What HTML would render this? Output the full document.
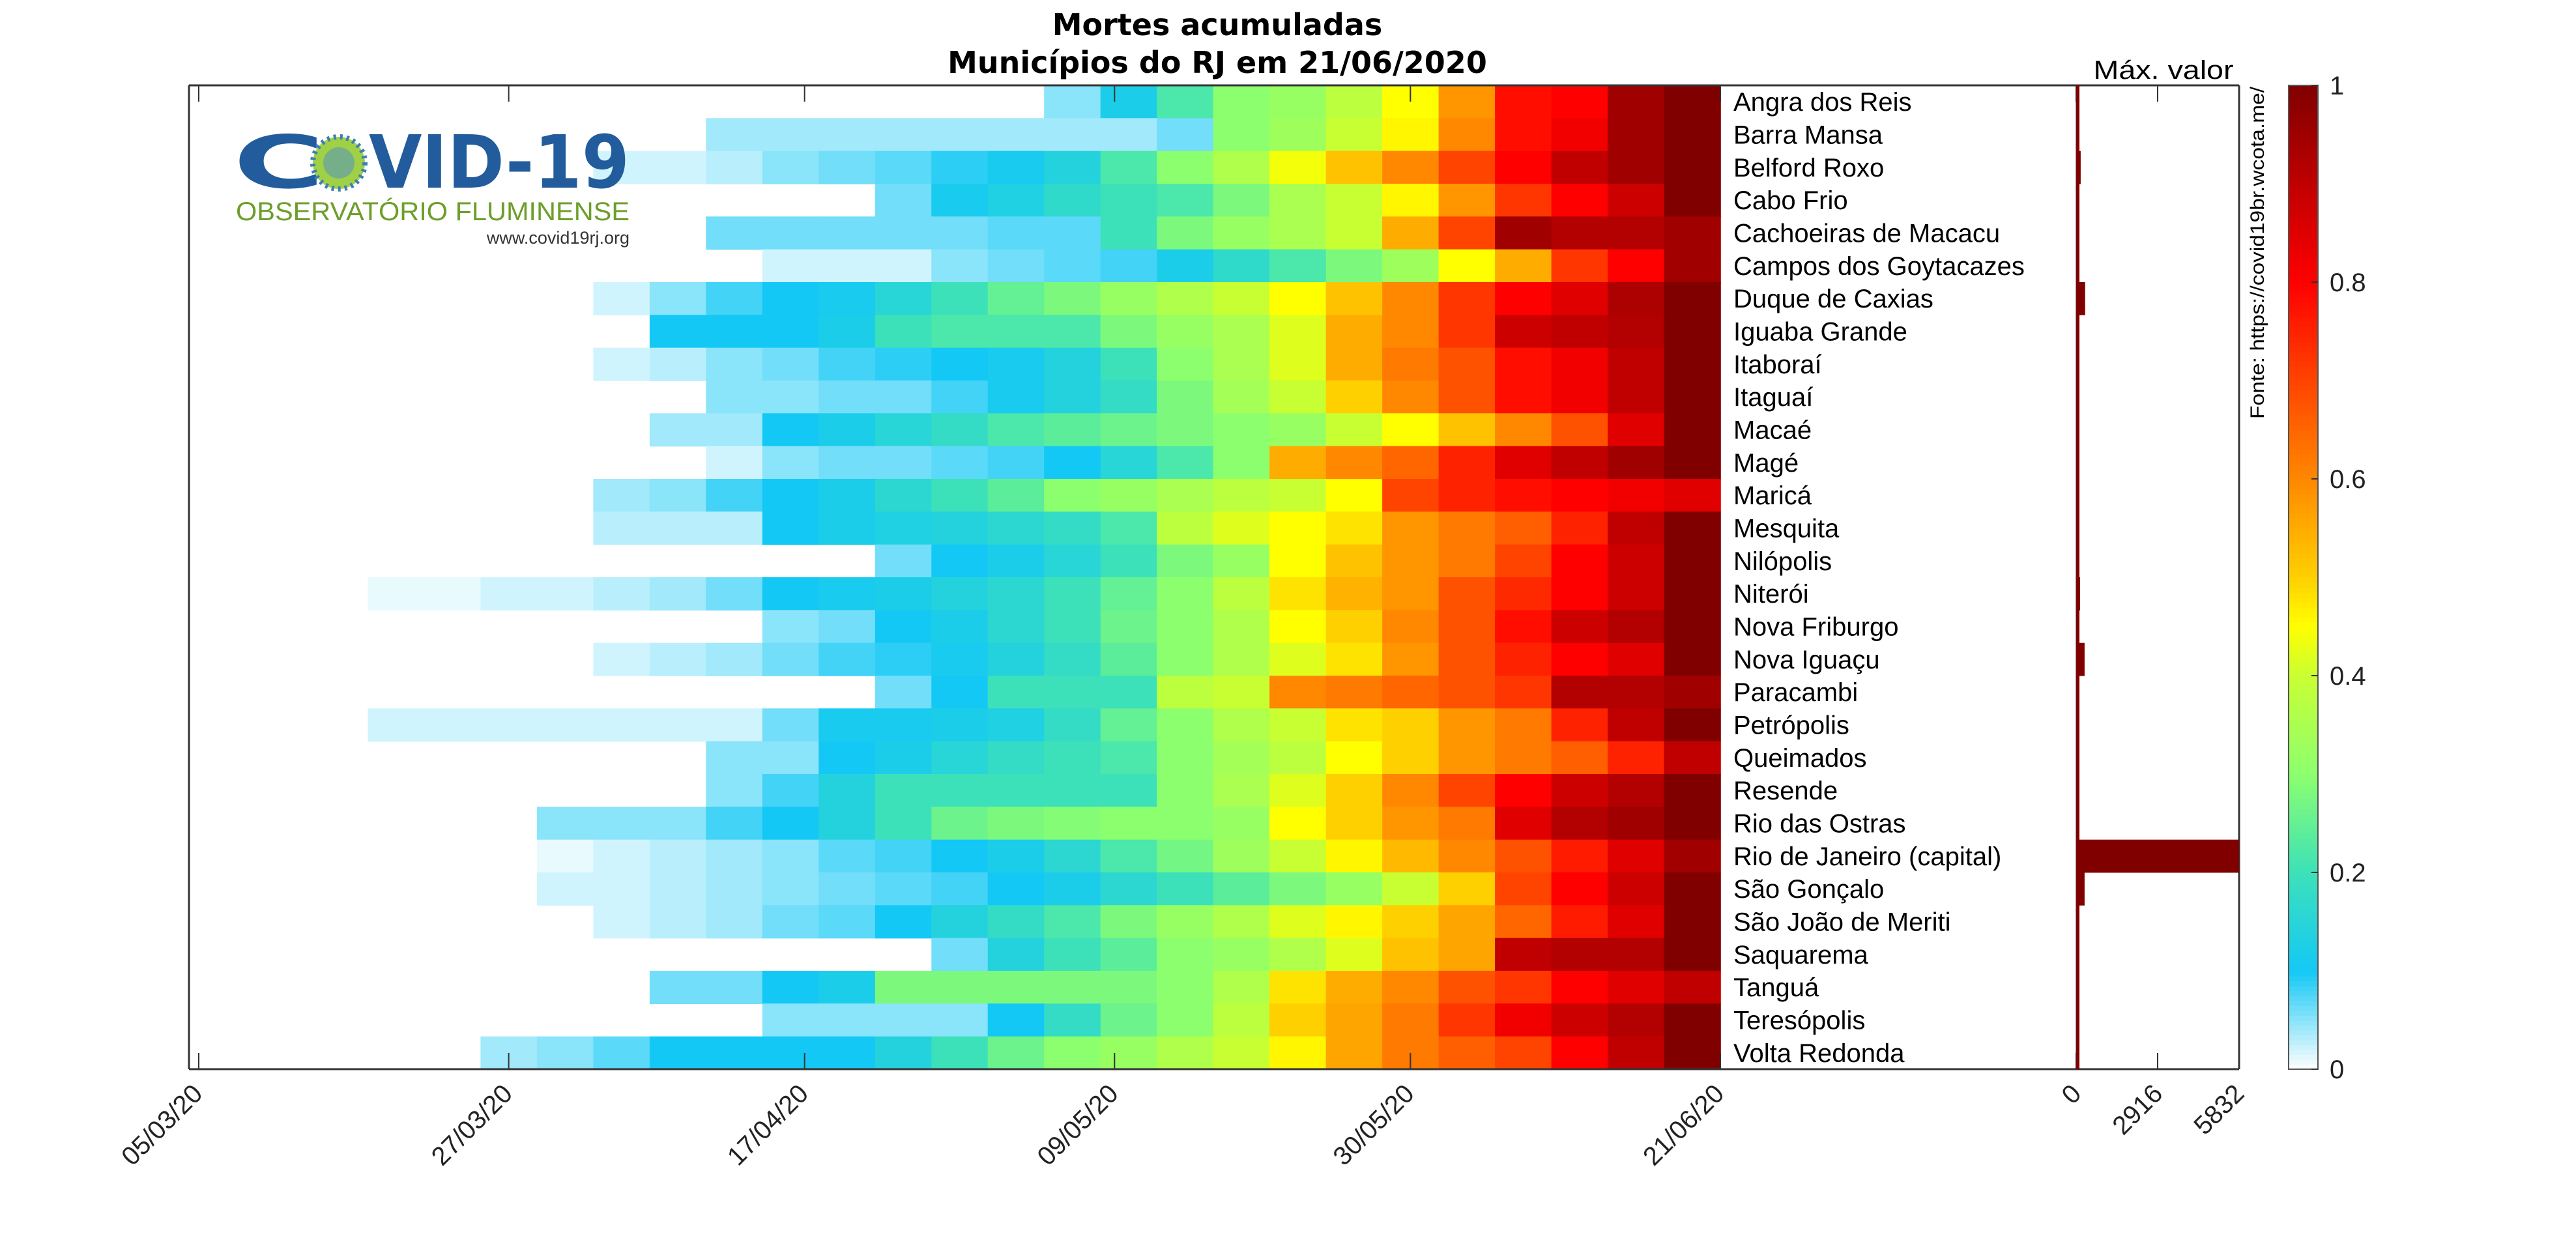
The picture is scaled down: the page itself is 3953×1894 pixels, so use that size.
<!DOCTYPE html>
<html><head><meta charset="utf-8"><style>
html,body{margin:0;padding:0;background:#fff;}
svg{display:block;font-family:"Liberation Sans",sans-serif;}
</style></head><body>
<svg id="chart" width="3953" height="1894" viewBox="0 0 3953 1894" xmlns="http://www.w3.org/2000/svg">
<text x="1868" y="54" font-size="46" font-weight="bold" text-anchor="middle" fill="#000" font-family="'DejaVu Sans',sans-serif">Mortes acumuladas</text>
<text x="1868" y="112" font-size="46" font-weight="bold" text-anchor="middle" fill="#000" font-family="'DejaVu Sans',sans-serif">Municípios do RJ em 21/06/2020</text>
<g id="heat"></g>
<g id="logo">
<text x="358" y="288" font-size="112" font-weight="bold" fill="#235c9c" font-family="'DejaVu Sans',sans-serif" textLength="140" lengthAdjust="spacingAndGlyphs">C</text>
<circle cx="520" cy="250" r="40" fill="#9fd046" stroke="#3d7fb4" stroke-width="8" stroke-dasharray="4 6"/>
<circle cx="520" cy="250" r="24" fill="#5a9ab8" opacity="0.6"/>
<text x="566" y="288" font-size="112" font-weight="bold" fill="#235c9c" font-family="'DejaVu Sans',sans-serif" textLength="400" lengthAdjust="spacingAndGlyphs">VID-19</text>
<text x="362" y="338" font-size="40" fill="#6d9e2a" textLength="604" lengthAdjust="spacingAndGlyphs">OBSERVATÓRIO FLUMINENSE</text>
<text x="966" y="374" font-size="27" fill="#333" text-anchor="end">www.covid19rj.org</text>
</g>
<g id="frame" fill="none" stroke="#333" stroke-width="3">
<line x1="290" y1="131" x2="3436" y2="131"/>
<line x1="290" y1="1641" x2="3436" y2="1641"/>
<line x1="290" y1="131" x2="290" y2="1641"/>
<line x1="3436" y1="131" x2="3436" y2="1641"/>
<line x1="3186" y1="131" x2="3186" y2="1641" stroke="#888" stroke-width="2"/>
</g>
<g id="ticks"></g>
<g id="labels"></g>
<g id="bars"></g>
<text x="3320" y="121" font-size="40" text-anchor="middle" fill="#000" textLength="215" lengthAdjust="spacingAndGlyphs">Máx. valor</text>
<text transform="translate(3474,133) rotate(-90)" font-size="30" text-anchor="end" fill="#000" textLength="510" lengthAdjust="spacingAndGlyphs">Fonte: https://covid19br.wcota.me/</text>
<g id="cbar"></g>
</svg>
<script>
const NS="http://www.w3.org/2000/svg";
const municipalities=["Angra dos Reis","Barra Mansa","Belford Roxo","Cabo Frio","Cachoeiras de Macacu","Campos dos Goytacazes","Duque de Caxias","Iguaba Grande","Itaboraí","Itaguaí","Macaé","Magé","Maricá","Mesquita","Nilópolis","Niterói","Nova Friburgo","Nova Iguaçu","Paracambi","Petrópolis","Queimados","Resende","Rio das Ostras","Rio de Janeiro (capital)","São Gonçalo","São João de Meriti","Saquarema","Tanguá","Teresópolis","Volta Redonda"];
const startCol=[15,9,7,12,9,10,7,8,7,9,8,9,7,7,12,3,10,7,12,3,9,9,6,6,6,7,13,8,10,5];
const rowValues=[
[0.05,0.12,0.22,0.3,0.32,0.38,0.45,0.58,0.78,0.8,0.95,1],
[0.04,0.04,0.04,0.04,0.04,0.04,0.04,0.04,0.06,0.3,0.33,0.4,0.46,0.6,0.78,0.82,0.95,1],
[0.02,0.02,0.03,0.05,0.06,0.07,0.09,0.11,0.14,0.22,0.3,0.36,0.44,0.52,0.6,0.7,0.8,0.9,0.95,1],
[0.06,0.11,0.13,0.17,0.2,0.22,0.28,0.35,0.4,0.46,0.58,0.72,0.8,0.88,1],
[0.06,0.06,0.06,0.06,0.06,0.07,0.07,0.2,0.28,0.32,0.35,0.4,0.55,0.7,0.95,0.92,0.92,0.95],
[0.02,0.02,0.02,0.05,0.06,0.07,0.08,0.12,0.17,0.22,0.28,0.33,0.45,0.55,0.72,0.8,0.95],
[0.02,0.05,0.08,0.1,0.11,0.15,0.2,0.25,0.28,0.32,0.36,0.4,0.45,0.52,0.6,0.72,0.8,0.85,0.93,1],
[0.1,0.1,0.1,0.12,0.2,0.22,0.22,0.22,0.28,0.32,0.35,0.42,0.55,0.6,0.72,0.88,0.9,0.92,1],
[0.02,0.03,0.05,0.06,0.08,0.09,0.1,0.11,0.14,0.2,0.3,0.35,0.42,0.55,0.62,0.68,0.78,0.82,0.9,1],
[0.05,0.05,0.06,0.06,0.08,0.11,0.14,0.18,0.28,0.34,0.4,0.5,0.6,0.68,0.78,0.82,0.9,1],
[0.04,0.04,0.1,0.12,0.15,0.18,0.22,0.24,0.26,0.28,0.3,0.32,0.4,0.45,0.52,0.6,0.68,0.85,1],
[0.02,0.05,0.06,0.06,0.07,0.08,0.1,0.15,0.22,0.3,0.55,0.6,0.65,0.75,0.85,0.9,0.95,1],
[0.04,0.05,0.08,0.1,0.12,0.16,0.2,0.24,0.3,0.32,0.35,0.38,0.4,0.45,0.7,0.75,0.78,0.8,0.82,0.85],
[0.03,0.03,0.03,0.1,0.12,0.13,0.14,0.16,0.18,0.22,0.38,0.42,0.45,0.48,0.58,0.62,0.66,0.75,0.9,1],
[0.06,0.1,0.12,0.15,0.2,0.28,0.32,0.45,0.52,0.58,0.62,0.7,0.8,0.88,1],
[0.01,0.01,0.02,0.02,0.03,0.04,0.06,0.1,0.11,0.12,0.14,0.16,0.2,0.25,0.3,0.38,0.48,0.54,0.58,0.68,0.74,0.8,0.88,1],
[0.05,0.06,0.1,0.12,0.16,0.2,0.26,0.3,0.36,0.45,0.5,0.6,0.68,0.78,0.88,0.92,1],
[0.02,0.03,0.04,0.06,0.08,0.09,0.11,0.14,0.18,0.24,0.3,0.36,0.42,0.48,0.58,0.68,0.75,0.8,0.85,1],
[0.06,0.1,0.2,0.2,0.2,0.38,0.4,0.6,0.62,0.65,0.68,0.72,0.92,0.92,0.95],
[0.02,0.02,0.02,0.02,0.02,0.02,0.02,0.06,0.11,0.11,0.12,0.13,0.18,0.25,0.3,0.36,0.4,0.48,0.5,0.58,0.62,0.75,0.9,1],
[0.05,0.05,0.1,0.12,0.15,0.18,0.2,0.22,0.3,0.34,0.38,0.45,0.5,0.58,0.62,0.66,0.75,0.9],
[0.05,0.08,0.14,0.2,0.2,0.2,0.2,0.2,0.3,0.35,0.42,0.5,0.6,0.7,0.8,0.88,0.92,1],
[0.05,0.05,0.05,0.08,0.1,0.14,0.2,0.26,0.28,0.29,0.3,0.3,0.32,0.45,0.5,0.58,0.62,0.85,0.92,0.95,1],
[0.01,0.02,0.03,0.04,0.05,0.07,0.08,0.1,0.12,0.16,0.22,0.27,0.33,0.4,0.46,0.53,0.6,0.68,0.76,0.85,0.95],
[0.02,0.02,0.03,0.04,0.05,0.06,0.07,0.08,0.1,0.12,0.16,0.2,0.24,0.28,0.32,0.4,0.5,0.7,0.8,0.88,1],
[0.02,0.03,0.04,0.06,0.07,0.1,0.14,0.18,0.22,0.28,0.32,0.36,0.42,0.46,0.5,0.56,0.65,0.76,0.85,1],
[0.06,0.14,0.2,0.24,0.3,0.32,0.36,0.42,0.52,0.56,0.9,0.92,0.92,1],
[0.06,0.06,0.1,0.12,0.28,0.28,0.28,0.28,0.28,0.3,0.36,0.48,0.55,0.6,0.68,0.72,0.8,0.85,0.9],
[0.05,0.05,0.05,0.05,0.1,0.18,0.26,0.3,0.38,0.5,0.56,0.62,0.72,0.82,0.88,0.92,1],
[0.04,0.05,0.07,0.1,0.1,0.1,0.1,0.14,0.2,0.26,0.3,0.32,0.36,0.4,0.46,0.56,0.62,0.66,0.7,0.8,0.9,1]
];
const maxDeaths=[40,30,160,50,25,70,320,15,60,40,60,60,60,40,40,140,60,300,20,60,40,30,30,5832,300,100,30,10,50,60];
const dateTickLabels=["05/03/20","27/03/20","17/04/20","09/05/20","30/05/20","21/06/20"];
const dateTickDays=[0,22,43,65,86,108];
const barTicks=[0,2916,5832];
const cbarTicks=[0,0.2,0.4,0.6,0.8,1];

const DAYS_PER_COL=4, NCOL=27;
const X0=305,X1=2640,Y0=131,Y1=1641;
const xDay=d=>X0+(X1-X0)*d/108;
const rowH=(Y1-Y0)/municipalities.length;
const yRow=i=>Y0+i*rowH;
const BX0=3186,BX1=3436,BMAX=5832;
const xBar=v=>BX0+(BX1-BX0)*v/BMAX;
const yC=v=>Y1-(Y1-Y0)*v;

const stops=[[0,[255,255,255]],[0.1,[20,200,245]],[0.2,[60,225,185]],[0.3,[140,255,110]],[0.4,[200,255,50]],[0.45,[255,255,0]],[0.5,[255,208,0]],[0.6,[255,136,0]],[0.7,[255,68,0]],[0.8,[255,0,0]],[0.9,[192,0,0]],[1,[128,0,0]]];
function cmap(v){v=Math.max(0,Math.min(1,v));for(let i=1;i<stops.length;i++){if(v<=stops[i][0]){const a=stops[i-1],b=stops[i];const t=(v-a[0])/(b[0]-a[0]);const c=a[1].map((x,k)=>Math.round(x+(b[1][k]-x)*t));return `rgb(${c[0]},${c[1]},${c[2]})`;}}return 'rgb(128,0,0)';}
function mk(tag,attrs,parent){const e=document.createElementNS(NS,tag);for(const k in attrs)e.setAttribute(k,attrs[k]);parent.appendChild(e);return e;}

const heat=document.getElementById('heat');
rowValues.forEach((vals,i)=>{vals.forEach((v,j)=>{const c=startCol[i]+j;if(c>=NCOL)return;
const x=xDay(c*DAYS_PER_COL),w=xDay((c+1)*DAYS_PER_COL)-x;
const r=mk('rect',{x:x.toFixed(1),y:yRow(i).toFixed(1),width:(w+0.8).toFixed(1),height:(rowH+0.8).toFixed(1),fill:cmap(v)},heat);


});});

const labels=document.getElementById('labels');
municipalities.forEach((n,i)=>{const t=mk('text',{x:2660,y:(yRow(i)+rowH/2+14).toFixed(1),'font-size':40,fill:'#000'},labels);t.textContent=n;

});

const bars=document.getElementById('bars');
maxDeaths.forEach((v,i)=>{const w=Math.max(xBar(v)-BX0,5);const r=mk('rect',{x:BX0,y:yRow(i).toFixed(1),width:w.toFixed(1),height:(rowH+0.5).toFixed(1),fill:'#800000'},bars);

});

const ticks=document.getElementById('ticks');
dateTickDays.forEach((d,i)=>{const x=xDay(d);
mk('line',{x1:x,y1:Y0,x2:x,y2:Y0+25,stroke:'#333','stroke-width':2},ticks);
mk('line',{x1:x,y1:Y1,x2:x,y2:Y1-25,stroke:'#333','stroke-width':2},ticks);
const t=mk('text',{transform:`translate(${x+8},${Y1+40}) rotate(-45)`,'font-size':40,'text-anchor':'end',fill:'#222'},ticks);t.textContent=dateTickLabels[i];

});
barTicks.forEach(v=>{const x=xBar(v);
mk('line',{x1:x,y1:Y0,x2:x,y2:Y0+25,stroke:'#333','stroke-width':2},ticks);
mk('line',{x1:x,y1:Y1,x2:x,y2:Y1-25,stroke:'#333','stroke-width':2},ticks);
const t=mk('text',{transform:`translate(${x+10},${Y1+40}) rotate(-45)`,'font-size':40,'text-anchor':'end',fill:'#222'},ticks);t.textContent=String(v);

});

const cb=document.getElementById('cbar');
const CX=3512,CW=45;
for(let k=0;k<200;k++){const v=k/200;mk('rect',{x:CX,y:(yC(v+0.005)).toFixed(1),width:CW,height:((Y1-Y0)/200+1).toFixed(1),fill:cmap(v+0.0025)},cb);}
mk('rect',{x:CX,y:Y0,width:CW,height:Y1-Y0,fill:'none',stroke:'#555','stroke-width':2},cb);
cbarTicks.forEach(v=>{const y=yC(v);mk('line',{x1:CX+CW-10,y1:y,x2:CX+CW,y2:y,stroke:'#333','stroke-width':2},cb);
const t=mk('text',{x:CX+CW+18,y:y+14,'font-size':40,fill:'#222'},cb);t.textContent=String(v);

});
</script>
</body></html>
